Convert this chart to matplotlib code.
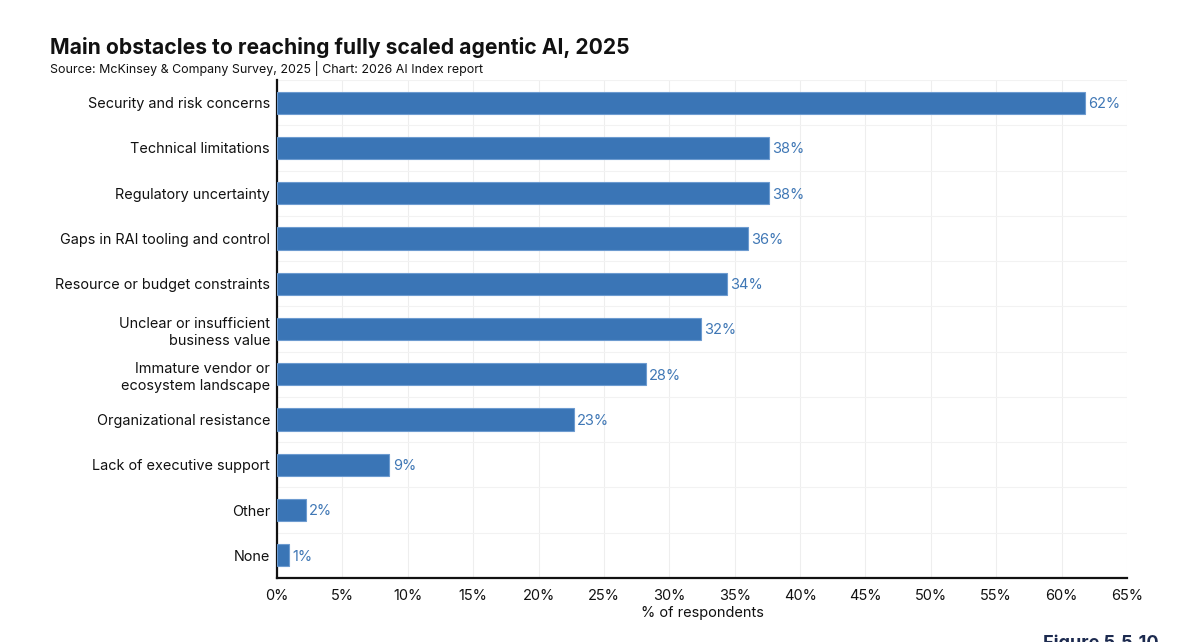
import matplotlib
matplotlib.use("Agg")
import matplotlib.pyplot as plt
from matplotlib.ticker import MultipleLocator, FuncFormatter

categories = [
    "Security and risk concerns",
    "Technical limitations",
    "Regulatory uncertainty",
    "Gaps in RAI tooling and control",
    "Resource or budget constraints",
    "Unclear or insufficient\nbusiness value",
    "Immature vendor or\necosystem landscape",
    "Organizational resistance",
    "Lack of executive support",
    "Other",
    "None",
]
values = [61.8, 37.6, 37.6, 36.0, 34.4, 32.4, 28.2, 22.7, 8.6, 2.2, 0.9]
labels = ["62%", "38%", "38%", "36%", "34%", "32%", "28%", "23%", "9%", "2%", "1%"]

plt.rcParams["font.family"] = ["Inter", "DejaVu Sans"]

W, H = 1200, 642
fig = plt.figure(figsize=(W / 100, H / 100), dpi=100)
ax = fig.add_axes([277 / W, 1 - 578 / H, (1127 - 277) / W, (578 - 80) / H])

bar_color = "#3a75b6"
y = list(range(len(categories)))
ax.barh(y, values, height=0.49, color=bar_color, edgecolor="#6d9bd0", linewidth=0.8, zorder=3)
for yi, v, lab in zip(y, values, labels):
    ax.text(v + 0.25, yi + 0.03, lab, va="center", ha="left", fontsize=10.5, color="#3f77b5", zorder=4)

ax.set_xlim(0, 65)
ax.set_ylim(10.5, -0.5)
ax.set_yticks(y)
ax.set_yticklabels(categories, fontsize=10.4, color="#111111", linespacing=1.3)
ax.xaxis.set_major_locator(MultipleLocator(5))
ax.xaxis.set_major_formatter(FuncFormatter(lambda v, p: f"{int(round(v))}%"))
ax.tick_params(axis="x", labelsize=10.5, length=0, pad=8, colors="#111111")
ax.tick_params(axis="y", length=0, pad=5)
ax.set_xlabel("% of respondents", fontsize=10.5, color="#111111", labelpad=2)

ax.set_yticks([i + 0.5 for i in range(-1, 10)], minor=True)
ax.grid(axis="x", which="major", color="#eeeeee", linewidth=0.8, zorder=0)
ax.grid(axis="y", which="minor", color="#f2f2f2", linewidth=0.8, zorder=0)
ax.tick_params(axis="y", which="minor", length=0)

for s in ["top", "right"]:
    ax.spines[s].set_visible(False)
ax.spines["left"].set_color("#111111")
ax.spines["left"].set_linewidth(1.6)
ax.spines["bottom"].set_color("#111111")
ax.spines["bottom"].set_linewidth(1.6)

fig.text(50 / W, 1 - 47 / H, "Main obstacles to reaching fully scaled agentic AI, 2025",
         fontsize=15.2, fontweight="bold", color="#111111", va="center", ha="left")
fig.text(50 / W, 1 - 69 / H, "Source: McKinsey & Company Survey, 2025 | Chart: 2026 AI Index report",
         fontsize=8.95, color="#111111", va="center", ha="left")
fig.text(1043 / W, 1 - 634 / H, "Figure 5.5.10", fontsize=13, fontweight="bold",
         color="#1c2a4f", va="top", ha="left")

fig.savefig("out.png", dpi=100)
